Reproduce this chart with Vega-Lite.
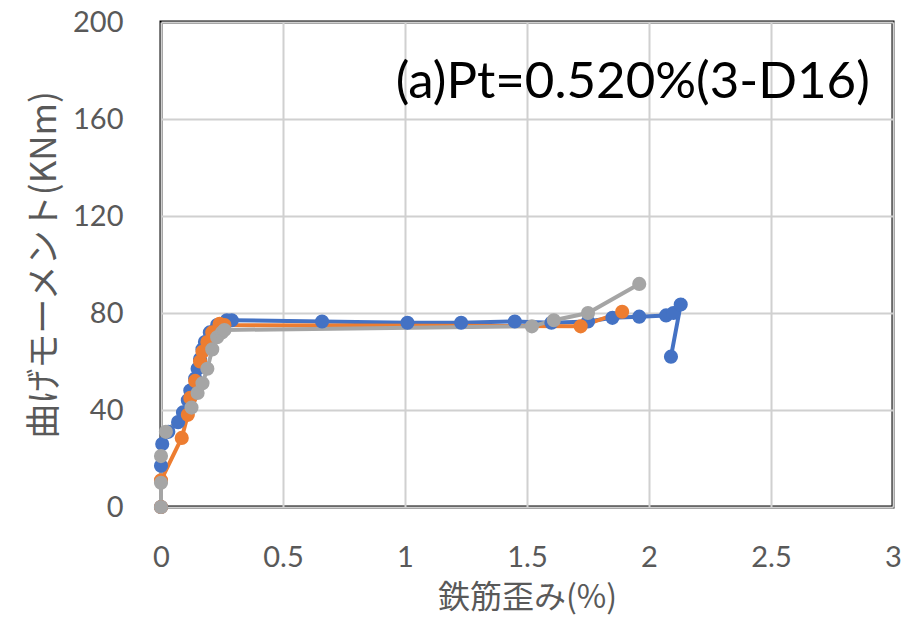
{
  "$schema": "https://vega.github.io/schema/vega-lite/v6.json",
  "width": 732,
  "height": 485,
  "autosize": {"type": "none"},
  "padding": {"left": 161, "top": 22, "right": 10, "bottom": 114},
  "background": "white",
  "config": {
    "view": {"stroke": "#000000", "strokeWidth": 3},
    "axis": {
      "grid": true,
      "gridColor": "#D0D0D0",
      "gridWidth": 2,
      "domain": false,
      "ticks": false,
      "labelFlush": false,
      "labelOverlap": false,
      "labelFont": "Lato",
      "labelFontSize": 29,
      "labelColor": "#595959",
      "titleFont": "Noto Sans CJK JP",
      "titleFontSize": 32,
      "titleFontWeight": "normal",
      "titleColor": "#595959"
    }
  },
  "datasets": {
    "series": [
      {"s": "A", "i": 0, "x": 0, "y": 0},
      {"s": "A", "i": 1, "x": 0, "y": 17},
      {"s": "A", "i": 2, "x": 0.005, "y": 26},
      {"s": "A", "i": 3, "x": 0.03, "y": 31},
      {"s": "A", "i": 4, "x": 0.07, "y": 35},
      {"s": "A", "i": 5, "x": 0.09, "y": 39},
      {"s": "A", "i": 6, "x": 0.11, "y": 44},
      {"s": "A", "i": 7, "x": 0.12, "y": 48},
      {"s": "A", "i": 8, "x": 0.14, "y": 53},
      {"s": "A", "i": 9, "x": 0.15, "y": 57},
      {"s": "A", "i": 10, "x": 0.16, "y": 61},
      {"s": "A", "i": 11, "x": 0.17, "y": 65},
      {"s": "A", "i": 12, "x": 0.18, "y": 68},
      {"s": "A", "i": 13, "x": 0.2, "y": 72},
      {"s": "A", "i": 14, "x": 0.23, "y": 75},
      {"s": "A", "i": 15, "x": 0.27, "y": 77},
      {"s": "A", "i": 16, "x": 0.29, "y": 77},
      {"s": "A", "i": 17, "x": 0.66, "y": 76.5},
      {"s": "A", "i": 18, "x": 1.01, "y": 76},
      {"s": "A", "i": 19, "x": 1.23, "y": 76},
      {"s": "A", "i": 20, "x": 1.45, "y": 76.5},
      {"s": "A", "i": 21, "x": 1.6, "y": 76},
      {"s": "A", "i": 22, "x": 1.75, "y": 76.5},
      {"s": "A", "i": 23, "x": 1.85, "y": 78},
      {"s": "A", "i": 24, "x": 1.96, "y": 78.5},
      {"s": "A", "i": 25, "x": 2.07, "y": 79},
      {"s": "A", "i": 26, "x": 2.1, "y": 80},
      {"s": "A", "i": 27, "x": 2.13, "y": 83.5},
      {"s": "A", "i": 28, "x": 2.09, "y": 62},
      {"s": "B", "i": 0, "x": 0, "y": 0},
      {"s": "B", "i": 1, "x": 0, "y": 11},
      {"s": "B", "i": 2, "x": 0.085, "y": 28.5},
      {"s": "B", "i": 3, "x": 0.11, "y": 38},
      {"s": "B", "i": 4, "x": 0.12, "y": 45},
      {"s": "B", "i": 5, "x": 0.14, "y": 52},
      {"s": "B", "i": 6, "x": 0.16, "y": 60},
      {"s": "B", "i": 7, "x": 0.17, "y": 64},
      {"s": "B", "i": 8, "x": 0.19, "y": 68},
      {"s": "B", "i": 9, "x": 0.21, "y": 72},
      {"s": "B", "i": 10, "x": 0.24, "y": 75.5},
      {"s": "B", "i": 11, "x": 0.26, "y": 75},
      {"s": "B", "i": 12, "x": 1.72, "y": 74.5},
      {"s": "B", "i": 13, "x": 1.89, "y": 80.5},
      {"s": "C", "i": 0, "x": 0, "y": 0},
      {"s": "C", "i": 1, "x": 0, "y": 10},
      {"s": "C", "i": 2, "x": 0, "y": 21},
      {"s": "C", "i": 3, "x": 0.02, "y": 31},
      {"s": "C", "i": 4, "x": 0.125, "y": 41},
      {"s": "C", "i": 5, "x": 0.15, "y": 47},
      {"s": "C", "i": 6, "x": 0.17, "y": 51},
      {"s": "C", "i": 7, "x": 0.19, "y": 57},
      {"s": "C", "i": 8, "x": 0.21, "y": 65},
      {"s": "C", "i": 9, "x": 0.23, "y": 70},
      {"s": "C", "i": 10, "x": 0.25, "y": 72},
      {"s": "C", "i": 11, "x": 0.26, "y": 73},
      {"s": "C", "i": 12, "x": 1.52, "y": 74.5},
      {"s": "C", "i": 13, "x": 1.61, "y": 77},
      {"s": "C", "i": 14, "x": 1.75, "y": 80},
      {"s": "C", "i": 15, "x": 1.96, "y": 92}
    ],
    "note": [
      {"x": 2.905, "y": 175, "t": "(a)Pt=0.520%(3-D16)"}
    ]
  },
  "layer": [
    {
      "data": {"name": "series"},
      "mark": {"type": "line", "strokeWidth": 4},
      "encoding": {
        "x": {"field": "x", "type": "quantitative", "scale": {"domain": [0, 3], "nice": false},
              "axis": {"values": [0, 0.5, 1, 1.5, 2, 2.5, 3], "format": "~g", "labelPadding": 36, "title": "鉄筋歪み(%)", "titlePadding": 10}},
        "y": {"field": "y", "type": "quantitative", "scale": {"domain": [0, 200], "nice": false},
              "axis": {"values": [0, 40, 80, 120, 160, 200], "labelPadding": 38, "title": "曲げモーメント(KNm)", "titleFontSize": 35, "titlePadding": 10}},
        "color": {"field": "s", "type": "nominal", "legend": null,
                  "scale": {"domain": ["A", "B", "C"], "range": ["#4472C4", "#ED7D31", "#A5A5A5"]}},
        "order": {"field": "i", "type": "quantitative"}
      }
    },
    {
      "data": {"name": "series"},
      "mark": {"type": "point", "filled": true, "opacity": 1, "size": 200},
      "encoding": {
        "x": {"field": "x", "type": "quantitative"},
        "y": {"field": "y", "type": "quantitative"},
        "color": {"field": "s", "type": "nominal", "legend": null}
      }
    },
    {
      "data": {"name": "note"},
      "mark": {"type": "text", "align": "right", "baseline": "middle", "font": "Lato", "fontSize": 51, "color": "#000000"},
      "encoding": {
        "x": {"field": "x", "type": "quantitative"},
        "y": {"field": "y", "type": "quantitative"},
        "text": {"field": "t"}
      }
    }
  ]
}
